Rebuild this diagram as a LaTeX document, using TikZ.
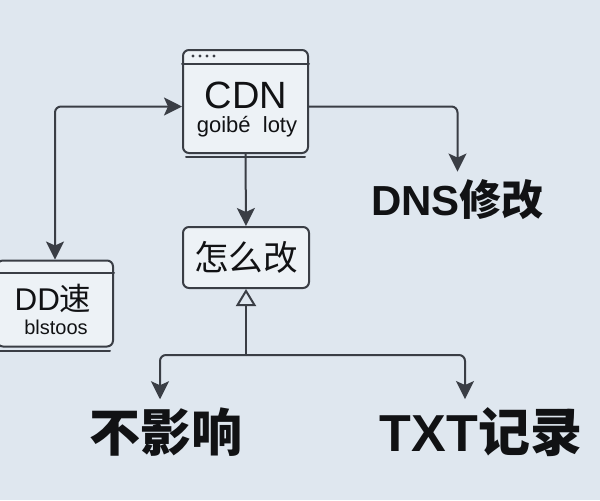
\documentclass[tikz,border=0pt]{standalone}
\usepackage{fontspec}
\setmainfont{Liberation Sans}
\newfontfamily\cjk{Noto Sans CJK SC}
\usepackage{xcolor}
\usetikzlibrary{arrows.meta,positioning,calc}
\definecolor{Slate}{HTML}{3A3E45}
\definecolor{MistBlue}{HTML}{DFE7EF}
\definecolor{Ink}{HTML}{111214}

\begin{document}
\begin{tikzpicture}[x=.5pt,y=-.5pt]
  \path[use as bounding box,fill=MistBlue] (0,0) rectangle (600,500);
  \tikzset{
    cfgWindow/.style={
      draw=Slate, fill=MistBlue!55!white, line width=1pt,
      rounded corners=3pt, inner sep=0pt
    },
    cfgEdge/.style={draw=Slate, line width=1pt, line cap=round},
    cfgFlow/.style={
      -{Stealth[length=9pt,width=9pt,inset=2pt]}, draw=Slate,
      line width=1pt, rounded corners=3pt
    },
    cfgBack/.style={
      -{Triangle[open,length=8.5pt,width=10pt,fill=MistBlue]}, draw=Slate,
      line width=1pt
    },
    cfgText/.style={text=Ink, inner sep=0pt},
    cfgLabel/.style={text=Ink, inner sep=4pt, font=\bfseries}
  }

  % windows
  \node[cfgWindow,minimum width=62.5pt,minimum height=51.5pt] (cdn) at (245.5,101.5) {};
  \draw[cfgEdge] ([yshift=-7.5pt]cdn.north west) -- ([yshift=-7.5pt]cdn.north east);
  \foreach \i in {0,...,3}
    \fill[Slate] ($(cdn.north west)+(11+7*\i,7)$) circle (.8pt);
  \draw[cfgEdge] ([xshift=2pt,yshift=-1.5pt]cdn.south west) -- ([xshift=-2pt,yshift=-1.5pt]cdn.south east);
  \node[cfgText,font=\fontsize{19}{22}\selectfont] (cdnTitle) at (246,95) {CDN};
  \node[cfgText,font=\fontsize{11}{13}\selectfont] (cdnSub) at (247,127) {goibé\ \ loty};

  \node[cfgWindow,minimum width=58pt,minimum height=43pt] (dd) at (55,303.5) {};
  \draw[cfgEdge] ([yshift=-6.5pt]dd.north west) -- ([yshift=-6.5pt]dd.north east);
  \draw[cfgEdge] ([yshift=-1.5pt]dd.south west) -- ([xshift=-2pt,yshift=-1.5pt]dd.south east);
  \node[cfgText,font=\fontsize{15.7}{18}\selectfont] (ddTitle) at (53,298) {DD{\cjk 速}};
  \node[cfgText,font=\fontsize{10}{12}\selectfont] (ddSub) at (56,327) {blstoos};

  \node[cfgWindow,minimum width=63pt,minimum height=30.5pt,
        font=\cjk\fontsize{17.3}{20}\selectfont,text=Ink] (fix) at (246,257.5) {怎么改};

  % plain labels
  \node[cfgLabel,font=\bfseries\fontsize{21}{24}\selectfont] (dns) at (457.5,200) {DNS{\cjk 修改}};
  \node[cfgLabel,font=\cjk\bfseries\fontsize{25.5}{28}\selectfont] (noEffect) at (166,432) {不影响};
  \node[cfgLabel,font=\bfseries\fontsize{26}{29}\selectfont] (txt) at (481,432) {TXT{\cjk 记录}};

  % connectors
  \draw[cfgFlow] (cdn.south) -- (fix.north);
  \draw[cfgFlow,{Stealth[length=9pt,width=9pt,inset=2pt]}-{Stealth[length=9pt,width=9pt,inset=2pt]}]
    ([yshift=-2.5pt]cdn.west) -| (dd.north);
  \draw[cfgFlow] ([yshift=-2.5pt]cdn.east) -| (dns.north);

  \coordinate (split) at (246,355);
  \draw[cfgBack] (split) -- (fix.south);
  \draw[cfgFlow] (split) -| ([xshift=-3pt]noEffect.north);
  \draw[cfgFlow] (split) -| ([xshift=-8pt]txt.north);
\end{tikzpicture}
\end{document}
